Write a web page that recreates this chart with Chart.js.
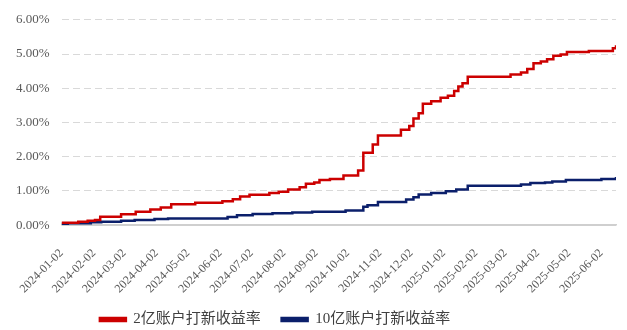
<!DOCTYPE html>
<html>
<head>
<meta charset="utf-8">
<script src="https://cdn.jsdelivr.net/npm/chart.js@4/dist/chart.umd.min.js"></script>
<style>
  html, body { margin: 0; padding: 0; background: #fff; }
  #wrap { width: 627px; height: 330px; }
</style>
</head>
<body>
<div id="wrap"><canvas id="ipoChart"></canvas></div>
<script>
// 打新收益率（累计，%），按跳升日期记录
const seriesNames = ['2亿账户打新收益率', '10亿账户打新收益率'];

const dates2e = [
  '2024-01-02', '2024-01-18', '2024-01-27', '2024-02-03', '2024-02-08', '2024-02-28',
  '2024-03-13', '2024-03-27', '2024-04-06', '2024-04-16', '2024-05-09', '2024-06-04',
  '2024-06-14', '2024-06-21', '2024-06-30', '2024-07-19', '2024-07-28', '2024-08-06',
  '2024-08-17', '2024-08-23', '2024-08-31', '2024-09-05', '2024-09-15', '2024-09-28',
  '2024-10-12', '2024-10-17', '2024-10-26', '2024-10-31', '2024-11-22', '2024-11-30',
  '2024-12-04', '2024-12-09', '2024-12-13', '2024-12-21', '2024-12-30', '2025-01-06',
  '2025-01-12', '2025-01-16', '2025-01-20', '2025-01-25', '2025-03-07', '2025-03-17',
  '2025-03-23', '2025-03-29', '2025-04-05', '2025-04-11', '2025-04-17', '2025-04-24',
  '2025-04-30', '2025-05-21', '2025-06-13', '2025-06-16'
];
const values2e = [
  0.07, 0.10, 0.13, 0.15, 0.25, 0.32,
  0.39, 0.46, 0.52, 0.61, 0.66, 0.70,
  0.76, 0.84, 0.89, 0.94, 0.98, 1.04,
  1.11, 1.21, 1.25, 1.32, 1.35, 1.45,
  1.60, 2.12, 2.36, 2.62, 2.79, 2.90,
  3.12, 3.27, 3.55, 3.62, 3.72, 3.78,
  3.92, 4.05, 4.15, 4.34, 4.40, 4.46,
  4.56, 4.73, 4.78, 4.85, 4.95, 4.99,
  5.06, 5.09, 5.17, 5.26
];

const dates10e = [
  '2024-01-02', '2024-01-08', '2024-01-30', '2024-02-09', '2024-02-28', '2024-03-12',
  '2024-03-31', '2024-04-13', '2024-06-09', '2024-06-18', '2024-07-03', '2024-07-22',
  '2024-08-10', '2024-08-29', '2024-09-30', '2024-10-17', '2024-10-21', '2024-10-31',
  '2024-11-27', '2024-12-04', '2024-12-09', '2024-12-21', '2025-01-04', '2025-01-14',
  '2025-01-25', '2025-03-17', '2025-03-26', '2025-04-09', '2025-04-16', '2025-04-29',
  '2025-06-02', '2025-06-16'
];
const values10e = [
  0.04, 0.06, 0.09, 0.10, 0.13, 0.15,
  0.18, 0.20, 0.24, 0.29, 0.33, 0.35,
  0.37, 0.39, 0.43, 0.54, 0.58, 0.68,
  0.75, 0.82, 0.90, 0.94, 0.99, 1.04,
  1.15, 1.19, 1.23, 1.25, 1.28, 1.32,
  1.35, 1.41
];

const tickLabels = [
  '2024-01-02', '2024-02-02', '2024-03-02', '2024-04-02', '2024-05-02', '2024-06-02',
  '2024-07-02', '2024-08-02', '2024-09-02', '2024-10-02', '2024-11-02', '2024-12-02',
  '2025-01-02', '2025-02-02', '2025-03-02', '2025-04-02', '2025-05-02', '2025-06-02'
];
const yTicks = [0, 1, 2, 3, 4, 5, 6];

// 日期 -> 距起始日天数
const base = Date.UTC(2024, 0, 2);
function dayOf(s) {
  const p = s.split('-').map(Number);
  return (Date.UTC(p[0], p[1] - 1, p[2]) - base) / 86400000;
}
const labelByDay = {};
tickLabels.forEach(t => { labelByDay[dayOf(t)] = t; });

const toPoints = (ds, vs) => ds.map((d, i) => ({ x: dayOf(d), y: vs[i] }));
const lastDay = Math.max(dayOf(dates2e[dates2e.length - 1]), dayOf(dates10e[dates10e.length - 1]));

const serif = "'Times New Roman', 'Liberation Serif', 'Noto Sans CJK SC', serif";

// Excel 图例偏左偏下，挪一下
const legendShift = {
  id: 'legendShift',
  afterLayout(chart) {
    const lg = chart.legend;
    lg.left -= 35;
    lg.right -= 35;
    lg.top += 7;
    lg.bottom += 7;
  }
};

const ctx = document.getElementById('ipoChart').getContext('2d');
new Chart(ctx, {
  type: 'line',
  data: {
    datasets: [{
      label: seriesNames[0],
      data: toPoints(dates2e, values2e),
      borderColor: '#cc0000',
      backgroundColor: '#cc0000',
      borderWidth: 2.5,
      pointRadius: 0,
      stepped: true
    }, {
      label: seriesNames[1],
      data: toPoints(dates10e, values10e),
      borderColor: '#0b1f6b',
      backgroundColor: '#0b1f6b',
      borderWidth: 2.5,
      pointRadius: 0,
      stepped: true
    }]
  },
  options: {
    responsive: true,
    maintainAspectRatio: false,
    animation: false,
    layout: { padding: { left: 4, right: 11, top: 5, bottom: 0 } },
    plugins: {
      tooltip: { enabled: false },
      legend: {
        position: 'bottom',
        labels: {
          boxWidth: 26,
          boxHeight: 3,
          padding: 2,
          color: '#404040',
          font: { size: 15, family: serif },
          generateLabels: chart => {
            const items = Chart.defaults.plugins.legend.labels.generateLabels(chart);
            items[0].text += '     ';   // 图例项之间留空
            return items;
          }
        }
      }
    },
    scales: {
      x: {
        type: 'linear',
        min: 0,
        max: lastDay,
        afterBuildTicks: axis => { axis.ticks = tickLabels.map(t => ({ value: dayOf(t) })); },
        afterFit: axis => {
          axis.paddingLeft = 0;
          axis.paddingRight = 0;
          axis.height -= 6;
        },
        ticks: {
          autoSkip: false,
          minRotation: 45,
          maxRotation: 45,
          padding: 13,
          color: '#595959',
          font: { size: 12, family: serif },
          callback: v => labelByDay[v] || ''
        },
        grid: { display: false },
        border: { display: true, color: '#cfcfcf', width: 1.5 }
      },
      y: {
        min: 0,
        max: 6,
        afterBuildTicks: axis => { axis.ticks = yTicks.map(v => ({ value: v })); },
        ticks: {
          color: '#595959',
          padding: 12,
          font: { size: 13, family: serif },
          callback: v => v.toFixed(2) + '%'
        },
        grid: {
          drawTicks: false,
          color: c => c.tick && c.tick.value === 0 ? '#cfcfcf' : '#d9d9d9'
        },
        border: {
          display: false,
          dash: c => c.tick && c.tick.value === 0 ? [] : [7, 4]
        }
      }
    }
  },
  plugins: [legendShift]
});
</script>
</body>
</html>
